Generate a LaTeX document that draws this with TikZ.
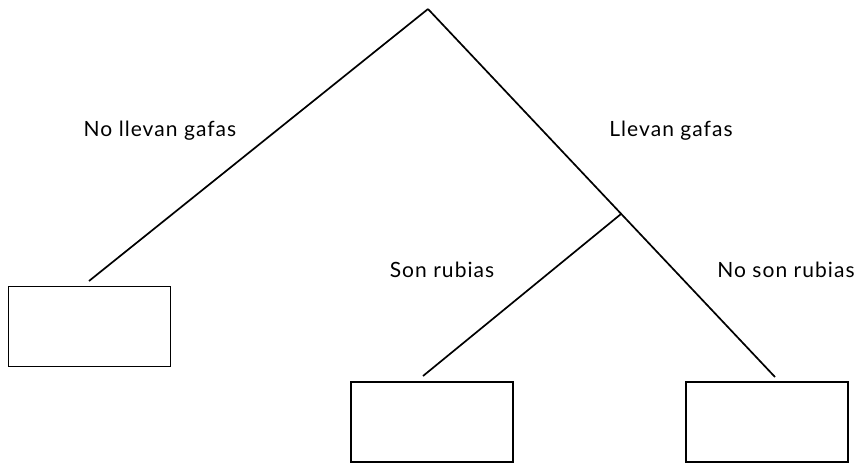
\documentclass[tikz,border=0pt]{standalone}
\usepackage{fontspec}
\setmainfont{Lato}[LetterSpace=5]
\begin{document}
\begin{tikzpicture}[x=1pt, y=-1pt, line width=1.7pt,
  leaf/.style={draw, minimum width=162pt, minimum height=80pt, inner sep=0pt},
  lbl/.style={font=\fontsize{21}{24}\selectfont}]
\useasboundingbox (0,0) rectangle (862,464);
\coordinate (root) at (428,9);
\coordinate (split) at (621,214);
\node[leaf] (nogafas) at (89.5,326.5) {};
\node[leaf] (rubias) at (432,422) {};
\node[leaf] (norubias) at (767,422) {};
\coordinate (nogafasend) at (89,281);
\coordinate (rubiasend) at (423,376);
\coordinate (norubiasend) at (775,377);
\draw (root) -- (nogafasend);
\draw (root) -- (norubiasend);
\draw (split) -- (rubiasend);
\node[lbl] (t1) at (160,131) {No llevan gafas};
\node[lbl] (t2) at (671,131) {Llevan gafas};
\node[lbl] (t3) at (442,270) {Son rubias};
\node[lbl] (t4) at (786,270) {No son rubias};
\end{tikzpicture}
\end{document}
